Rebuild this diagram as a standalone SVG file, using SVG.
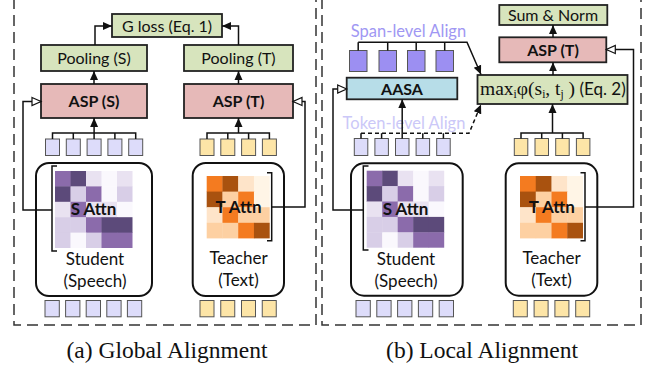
<svg xmlns="http://www.w3.org/2000/svg" width="651" height="370" viewBox="0 0 651 370">
<style>
.panel{fill:none;stroke:#333;stroke-width:1.5;stroke-dasharray:11,6}
.box{stroke:#222;stroke-width:1.8}
.green{fill:#d7e4bd}
.pink{fill:#e6b9b8}
.blue{fill:#b7dde8}
.lbl{font-family:Lato,"Liberation Sans",sans-serif;font-size:16px;fill:#111;text-anchor:middle}
.nl{font-size:17px}
.b{font-weight:bold}
.enc{fill:#fff;stroke:#111;stroke-width:2}
.sq{stroke:#555;stroke-width:1}
.lav{fill:#dddcfa}
.yel{fill:#fde5a7}
.pur{fill:#9c8ff2}
.ln{fill:none;stroke:#111;stroke-width:1.5}
.dash{stroke-dasharray:4,3}
.arr{marker-end:url(#ah)}
.hol{marker-end:url(#hh)}
.cap{font-family:"Liberation Serif",serif;font-size:23.5px;fill:#111;text-anchor:middle}
.D{fill:#5c4a7a}.M{fill:#8b6bab}.L{fill:#d8cee7}.E{fill:#e9e2f1}.V{fill:#faf8fd}
.O{fill:#f47b20}.B{fill:#a9520f}.P{fill:#fdd0a2}.Q{fill:#fee4c9}.W{fill:#fff5e6}
</style>
<defs>
<marker id="ah" markerUnits="userSpaceOnUse" markerWidth="9" markerHeight="9" viewBox="0 0 9 9" refX="9" refY="4.5" orient="auto"><path d="M0,0.5 L9,4.5 L0,8.5 z" fill="#111"/></marker>
<marker id="hh" markerUnits="userSpaceOnUse" markerWidth="12" markerHeight="12" viewBox="-1 -1 12 12" refX="9" refY="4.5" orient="auto"><path d="M0,0.5 L9,4.5 L0,8.5 z" fill="#fff" stroke="#111" stroke-width="1.2"/></marker>
<g id="hmS">
<rect class="M" x="0" y="0" width="15.9" height="15.8"/><rect class="D" x="15.5" y="0" width="15.9" height="15.8"/><rect class="E" x="31" y="0" width="15.9" height="15.8"/><rect class="V" x="46.5" y="0" width="15.9" height="15.8"/><rect class="E" x="62" y="0" width="15.5" height="15.8"/>
<rect class="D" x="0" y="15.4" width="15.9" height="15.8"/><rect class="L" x="15.5" y="15.4" width="15.9" height="15.8"/><rect class="M" x="31" y="15.4" width="15.9" height="15.8"/><rect class="V" x="46.5" y="15.4" width="15.9" height="15.8"/><rect class="L" x="62" y="15.4" width="15.5" height="15.8"/>
<rect class="E" x="0" y="30.8" width="15.9" height="15.8"/><rect class="M" x="15.5" y="30.8" width="15.9" height="15.8"/><rect class="E" x="31" y="30.8" width="15.9" height="15.8"/><rect class="E" x="46.5" y="30.8" width="15.9" height="15.8"/><rect class="V" x="62" y="30.8" width="15.5" height="15.8"/>
<rect class="L" x="0" y="46.2" width="15.9" height="15.8"/><rect class="L" x="15.5" y="46.2" width="15.9" height="15.8"/><rect class="M" x="31" y="46.2" width="15.9" height="15.8"/><rect class="D" x="46.5" y="46.2" width="15.9" height="15.8"/><rect class="D" x="62" y="46.2" width="15.5" height="15.8"/>
<rect class="L" x="0" y="61.6" width="15.9" height="15.4"/><rect class="V" x="15.5" y="61.6" width="15.9" height="15.4"/><rect class="L" x="31" y="61.6" width="15.9" height="15.4"/><rect class="M" x="46.5" y="61.6" width="15.9" height="15.4"/><rect class="M" x="62" y="61.6" width="15.5" height="15.4"/>
</g>
<g id="hmT">
<rect class="O" x="0" y="0" width="16.1" height="16"/><rect class="B" x="15.75" y="0" width="16.1" height="16"/><rect class="Q" x="31.5" y="0" width="16.1" height="16"/><rect class="W" x="47.25" y="0" width="15.75" height="16"/>
<rect class="B" x="0" y="15.6" width="16.1" height="16"/><rect class="P" x="15.75" y="15.6" width="16.1" height="16"/><rect class="O" x="31.5" y="15.6" width="16.1" height="16"/><rect class="W" x="47.25" y="15.6" width="15.75" height="16"/>
<rect class="Q" x="0" y="31.2" width="16.1" height="16"/><rect class="O" x="15.75" y="31.2" width="16.1" height="16"/><rect class="P" x="31.5" y="31.2" width="16.1" height="16"/><rect class="P" x="47.25" y="31.2" width="15.75" height="16"/>
<rect class="P" x="0" y="46.8" width="16.1" height="15.6"/><rect class="P" x="15.75" y="46.8" width="16.1" height="15.6"/><rect class="O" x="31.5" y="46.8" width="16.1" height="15.6"/><rect class="B" x="47.25" y="46.8" width="15.75" height="15.6"/>
</g>
</defs>
<rect width="651" height="370" fill="#fff"/>

<g id="panels">
<path class="panel" d="M14,-2 V325 H316 V-2"/>
<path class="panel" d="M322,-2 V325 H641 V-2"/>
</g>

<!-- ===== Left panel nodes ===== -->
<g id="g-loss"><rect class="box green" x="112" y="14" width="110" height="23"/><text class="lbl" x="167" y="31.5">G loss (Eq. 1)</text></g>
<g id="pool-s"><rect class="box green" x="41" y="45" width="106" height="26"/><text class="lbl" x="94" y="63.5">Pooling (S)</text></g>
<g id="pool-t"><rect class="box green" x="184" y="45" width="109" height="26"/><text class="lbl" x="238.5" y="63.5">Pooling (T)</text></g>
<g id="asp-s"><rect class="box pink" x="41" y="84" width="106" height="34"/><text class="lbl b" x="94" y="107">ASP (S)</text></g>
<g id="asp-t"><rect class="box pink" x="184" y="84" width="109" height="34"/><text class="lbl b" x="238.5" y="107">ASP (T)</text></g>

<g id="tok-s-top-a">
<rect class="sq lav" x="45.5" y="139" width="14" height="16.5"/><rect class="sq lav" x="66.3" y="139" width="14" height="16.5"/><rect class="sq lav" x="87.1" y="139" width="14" height="16.5"/><rect class="sq lav" x="107.9" y="139" width="14" height="16.5"/><rect class="sq lav" x="128.7" y="139" width="14" height="16.5"/>
</g>
<g id="tok-t-top-a">
<rect class="sq yel" x="200" y="139" width="14" height="16.5"/><rect class="sq yel" x="220.8" y="139" width="14" height="16.5"/><rect class="sq yel" x="241.6" y="139" width="14" height="16.5"/><rect class="sq yel" x="262.4" y="139" width="14" height="16.5"/>
</g>

<g id="student-a">
<rect class="enc" x="36" y="163" width="116" height="133" rx="13"/>
<use href="#hmS" x="55" y="171"/>
<path class="ln" d="M57,166 H52 V251 H57"/>
<text class="lbl b nl" x="93.5" y="215">S Attn</text>
<text class="lbl nl" x="95" y="265">Student</text>
<text class="lbl nl" x="95" y="287">(Speech)</text>
</g>
<g id="teacher-a">
<rect class="enc" x="192.7" y="163" width="91.3" height="133" rx="13"/>
<use href="#hmT" x="206.7" y="176"/>
<path class="ln" d="M267,172.7 H271.7 V240.7 H267"/>
<text class="lbl b nl" x="238.5" y="212.5">T Attn</text>
<text class="lbl nl" x="238.5" y="263.5">Teacher</text>
<text class="lbl nl" x="238.5" y="285.5">(Text)</text>
</g>

<g id="tok-s-bot-a">
<rect class="sq lav" x="45" y="300.5" width="14.3" height="16.3"/><rect class="sq lav" x="65.6" y="300.5" width="14.3" height="16.3"/><rect class="sq lav" x="86.2" y="300.5" width="14.3" height="16.3"/><rect class="sq lav" x="106.8" y="300.5" width="14.3" height="16.3"/><rect class="sq lav" x="127.4" y="300.5" width="14.3" height="16.3"/>
</g>
<g id="tok-t-bot-a">
<rect class="sq yel" x="200" y="300.5" width="14" height="16.3"/><rect class="sq yel" x="220.75" y="300.5" width="14" height="16.3"/><rect class="sq yel" x="241.5" y="300.5" width="14" height="16.3"/><rect class="sq yel" x="262.25" y="300.5" width="14" height="16.3"/>
</g>

<!-- ===== Right panel nodes ===== -->
<g id="sum-norm"><rect class="box green" x="499.3" y="5" width="108" height="20"/><text class="lbl" x="553" y="20.8">Sum &amp; Norm</text></g>
<g id="asp-t-b"><rect class="box pink" x="499.3" y="37.3" width="107" height="25"/><text class="lbl b" x="553" y="55.5">ASP (T)</text></g>
<g id="max-box"><rect class="box green" x="477.5" y="75" width="150" height="29"/>
<text x="480" y="94.5" font-family="'Liberation Serif',serif" font-size="19.5" fill="#111">max<tspan font-size="11.5" dy="3">i</tspan><tspan dy="-3">φ(s</tspan><tspan font-size="11.5" dy="3">i</tspan><tspan dy="-3">, t</tspan><tspan font-size="11.5" dy="3">j</tspan><tspan dy="-3"> )</tspan><tspan font-family="Lato,'Liberation Sans',sans-serif" font-size="17"> (Eq. 2)</tspan></text>
</g>
<g id="aasa"><rect class="box blue" x="346.7" y="77.7" width="110.6" height="21.6"/><text class="lbl b" x="402" y="95">AASA</text></g>

<g id="span-tokens">
<rect class="sq pur" x="349.5" y="50.5" width="17.5" height="21"/><rect class="sq pur" x="379" y="50.5" width="17.5" height="21"/><rect class="sq pur" x="407.5" y="50.5" width="17.5" height="21"/><rect class="sq pur" x="436" y="50.5" width="17.5" height="21"/>
</g>
<text id="span-label" x="408.5" y="36.7" font-family="Lato,'Liberation Sans',sans-serif" font-size="16.5" fill="#a097f3" text-anchor="middle">Span-level Align</text>
<text id="token-label" x="404" y="128.5" font-family="Lato,'Liberation Sans',sans-serif" font-size="16.5" fill="#cbc8f8" text-anchor="middle">Token-level Align</text>

<g id="tok-s-top-b">
<rect class="sq lav" x="354.3" y="138.5" width="13.5" height="17"/><rect class="sq lav" x="374.9" y="138.5" width="13.5" height="17"/><rect class="sq lav" x="395.5" y="138.5" width="13.5" height="17"/><rect class="sq lav" x="416.1" y="138.5" width="13.5" height="17"/><rect class="sq lav" x="436.7" y="138.5" width="13.5" height="17"/>
</g>
<g id="tok-t-top-b">
<rect class="sq yel" x="514.3" y="138.5" width="13.5" height="17"/><rect class="sq yel" x="535" y="138.5" width="13.5" height="17"/><rect class="sq yel" x="555.7" y="138.5" width="13.5" height="17"/><rect class="sq yel" x="576.4" y="138.5" width="13.5" height="17"/>
</g>

<g id="student-b">
<rect class="enc" x="351" y="163.3" width="111.7" height="132.4" rx="13"/>
<use href="#hmS" x="366.7" y="170.7"/>
<path class="ln" d="M368.5,166 H363.3 V250 H368.5"/>
<text class="lbl b nl" x="405.5" y="214.5">S Attn</text>
<text class="lbl nl" x="406" y="265">Student</text>
<text class="lbl nl" x="406" y="287">(Speech)</text>
</g>
<g id="teacher-b">
<rect class="enc" x="505.7" y="163.3" width="91.6" height="132.4" rx="13"/>
<use href="#hmT" x="520" y="176"/>
<path class="ln" d="M580.5,172.7 H585 V240.7 H580.5"/>
<text class="lbl b nl" x="551.7" y="212.7">T Attn</text>
<text class="lbl nl" x="551.5" y="263.5">Teacher</text>
<text class="lbl nl" x="551.5" y="285.5">(Text)</text>
</g>

<g id="tok-s-bot-b">
<rect class="sq lav" x="356" y="300.5" width="14.3" height="16.3"/><rect class="sq lav" x="376.8" y="300.5" width="14.3" height="16.3"/><rect class="sq lav" x="397.6" y="300.5" width="14.3" height="16.3"/><rect class="sq lav" x="418.4" y="300.5" width="14.3" height="16.3"/><rect class="sq lav" x="439.2" y="300.5" width="14.3" height="16.3"/>
</g>
<g id="tok-t-bot-b">
<rect class="sq yel" x="513.3" y="300.5" width="14" height="16.3"/><rect class="sq yel" x="534.1" y="300.5" width="14" height="16.3"/><rect class="sq yel" x="554.9" y="300.5" width="14" height="16.3"/><rect class="sq yel" x="575.7" y="300.5" width="14" height="16.3"/>
</g>

<!-- ===== Connectors ===== -->
<g id="connectors">
<path class="ln arr" d="M95,45 V26 H112"/>
<path class="ln arr" d="M238.5,45 V26 H222"/>
<path class="ln arr" d="M94,84 V71"/>
<path class="ln arr" d="M238.5,84 V71"/>
<path class="ln" d="M52.5,139 V133 H135.7 V139 M73.3,133 V139 M114.9,133 V139"/>
<path class="ln arr" d="M94.1,139 V118"/>
<path class="ln" d="M207,139 V133 H269.4 V139 M227.8,133 V139 M248.6,133 V139"/>
<path class="ln arr" d="M238.5,133 V118"/>
<path class="ln hol" d="M52,210 H23 V101.5 H41"/>
<path class="ln hol" d="M271.7,207 H305 V101.5 H293"/>

<path class="ln arr" d="M553,37.3 V25"/>
<path class="ln arr" d="M553,75 V62.3"/>
<path class="ln" d="M521,138.5 V133 H583.1 V138.5 M541.7,133 V138.5 M562.4,133 V138.5"/>
<path class="ln arr" d="M552.5,133 V104"/>
<path class="ln hol" d="M585,207 H633.5 V49.5 H606.3"/>
<path class="ln hol" d="M363.3,210 H333 V89 H346.7"/>
<path class="ln" d="M361,133.3 V138.5 M381.6,133.3 V138.5 M422.8,133.3 V138.5 M443.4,133.3 V138.5"/>
<path class="ln dash arr" d="M361,133.3 H469 L481,104.5"/>
<path class="ln arr" d="M402.2,138.5 V99.3"/>
<path class="ln" d="M358.2,42.3 V50.5 M387.7,42.3 V50.5 M416.2,42.3 V50.5 M444.7,42.3 V50.5"/>
<path class="ln arr" d="M358.2,42.3 H467 L481,74.5"/>
</g>

<text class="cap" x="167" y="357.5">(a) Global Alignment</text>
<text class="cap" x="482" y="357.5">(b) Local Alignment</text>
</svg>
